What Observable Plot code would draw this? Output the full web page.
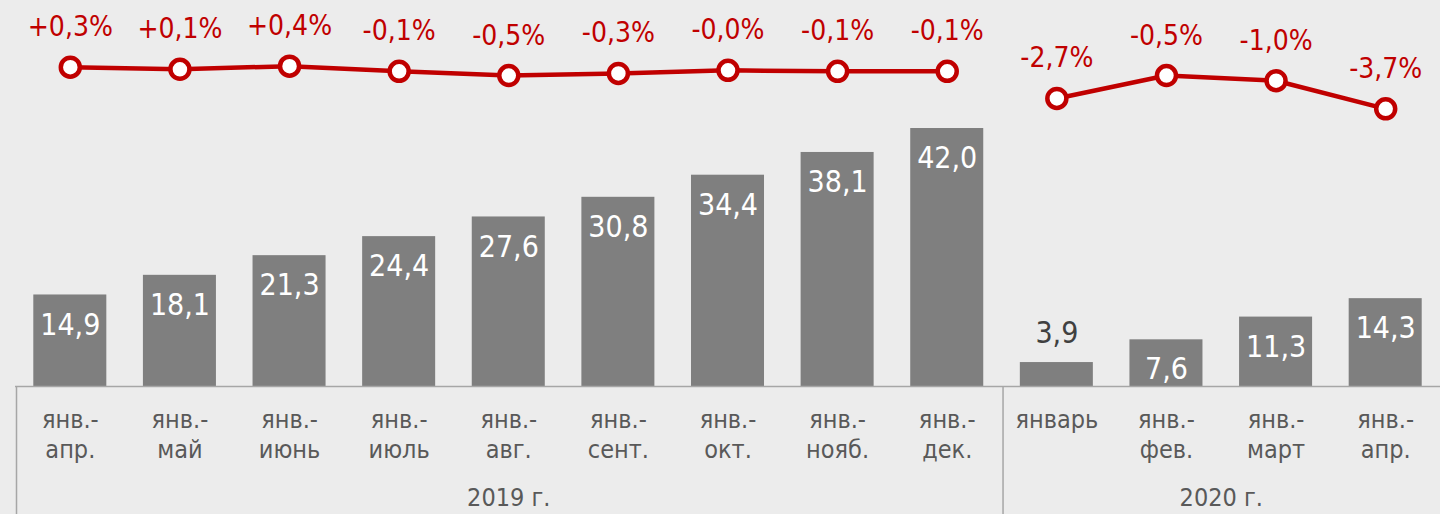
<!DOCTYPE html>
<html>
<head>
<meta charset="utf-8">
<script src="https://cdn.jsdelivr.net/npm/d3@7"></script>
<script src="https://cdn.jsdelivr.net/npm/@observablehq/plot@0.6"></script>
<style>
  html, body { margin: 0; padding: 0; background: #ececec; }
  #chart svg { display: block; background: #ececec; }
</style>
</head>
<body>
<div id="chart"></div>
<script>
// ---- data ----
const years = ["2019 г.", "2020 г."];
const periods2019 = ["янв.-\nапр.", "янв.-\nмай", "янв.-\nиюнь", "янв.-\nиюль", "янв.-\nавг.", "янв.-\nсент.", "янв.-\nокт.", "янв.-\nнояб.", "янв.-\nдек."];
const periods2020 = ["январь", "янв.-\nфев.", "янв.-\nмарт", "янв.-\nапр."];
const values2019 = [14.9, 18.1, 21.3, 24.4, 27.6, 30.8, 34.4, 38.1, 42.0];
const values2020 = [3.9, 7.6, 11.3, 14.3];
const change2019 = [0.3, 0.1, 0.4, -0.1, -0.5, -0.3, -0.0, -0.1, -0.1];
const change2020 = [-2.7, -0.5, -1.0, -3.7];

// ---- table ----
const rows = [];
periods2019.forEach((p, i) => rows.push({key: "2019|" + i, label: p, year: years[0], value: values2019[i], change: change2019[i]}));
periods2020.forEach((p, i) => rows.push({key: "2020|" + i, label: p, year: years[1], value: values2020[i], change: change2020[i]}));
const keys = rows.map(d => d.key);

// secondary scale mapping the % change onto the bar value axis (dual-axis)
const changeToY = d3.scaleLinear().domain([-3.7, 0.4]).range([45.2, 52.15]);

const fmtVal = v => v.toFixed(1).replace(".", ",");
const fmtPct = v => ((v < 0 || Object.is(v, -0)) ? "-" : "+") + Math.abs(v).toFixed(1).replace(".", ",") + "%";

const FONT = "'DejaVu Sans Condensed', 'DejaVu Sans', sans-serif";
const RED = "#c00000";
const GRAY_TEXT = "#595959";
const width = 1440, height = 514;
const step = (width - 15) / keys.length;

const groupStarts = [rows.find(d => d.year === years[0]), rows.find(d => d.year === years[1])];

const chart = Plot.plot({
  width, height,
  marginLeft: 15, marginRight: 0, marginTop: 0, marginBottom: 128,
  style: {background: "#ececec", fontFamily: FONT, overflow: "visible"},
  x: {domain: keys, padding: 0, round: false, axis: null},
  y: {domain: [0, 62.84], axis: null},
  marks: [
    Plot.barY(rows, {x: "key", y: "value", fill: "#7f7f7f", insetLeft: 18.3, insetRight: 18.3}),
    Plot.ruleY([0], {stroke: "#a6a6a6", strokeWidth: 1.5}),
    Plot.ruleX(groupStarts, {x: "key", y1: 0, y2: -21, dx: -step / 2 + 1, stroke: "#a6a6a6", strokeWidth: 1.5}),
    // values
    Plot.text(rows.filter(d => d.value >= 5), {x: "key", y: "value", text: d => fmtVal(d.value), dy: 30, fill: "white", fontSize: 30}),
    Plot.text(rows.filter(d => d.value < 5), {x: "key", y: "value", text: d => fmtVal(d.value), dy: -29, fill: "#404040", fontSize: 30}),
    // change line
    Plot.line(rows, {x: "key", y: d => changeToY(d.change), z: "year", stroke: RED, strokeWidth: 4.5}),
    Plot.dot(rows, {x: "key", y: d => changeToY(d.change), r: 9.5, fill: "white", stroke: RED, strokeWidth: 4.5}),
    Plot.text(rows, {x: "key", y: d => changeToY(d.change), text: d => fmtPct(d.change), dy: -40, fill: RED, fontSize: 28}),
    // axis labels
    Plot.text(rows, {x: "key", frameAnchor: "bottom", text: "label", lineAnchor: "top", dy: 20, lineHeight: 1.2, fill: GRAY_TEXT, fontSize: 25}),
    Plot.text([years[0]], {x: () => keys[4], frameAnchor: "bottom", text: d => d, lineAnchor: "middle", dy: 111, fill: GRAY_TEXT, fontSize: 25}),
    Plot.text([years[1]], {x: () => keys[11], frameAnchor: "bottom", text: d => d, lineAnchor: "middle", dx: -step / 2, dy: 111, fill: GRAY_TEXT, fontSize: 25})
  ]
});
document.getElementById("chart").appendChild(chart);
</script>
</body>
</html>
